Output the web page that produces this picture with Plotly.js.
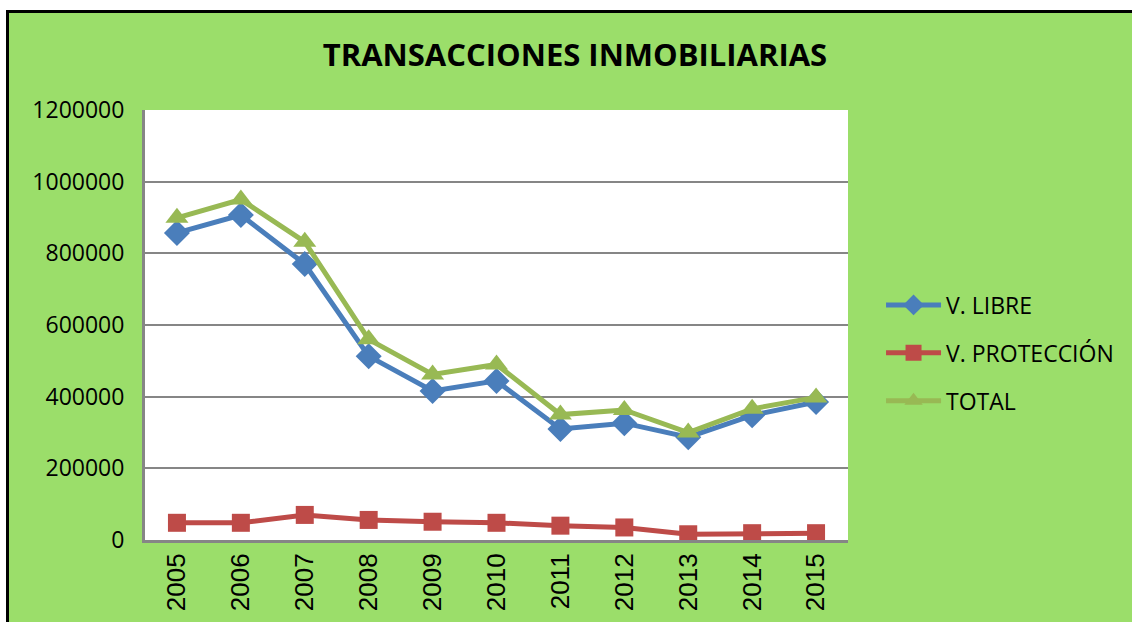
<!DOCTYPE html>
<html>
<head>
<meta charset="utf-8">
<script src="https://cdn.plot.ly/plotly-3.0.1.min.js"></script>
<style>
  html, body { margin: 0; padding: 0; background: #ffffff; width: 1132px; height: 622px; overflow: hidden; }
  #frame { position: absolute; left: 6px; top: 10px; width: 1126px; height: 612px;
           border-left: 3px solid #000; border-top: 3px solid #000; background: #9BDE6A; box-sizing: border-box; }
  #chart { position: absolute; left: 0; top: 0; width: 1123px; height: 609px; }
</style>
</head>
<body>
<div id="frame"><div id="chart"></div></div>
<script>
const years = ["2005","2006","2007","2008","2009","2010","2011","2012","2013","2014","2015"];
const libre = [857000, 907000, 770000, 513000, 416000, 444000, 310000, 326000, 287000, 348000, 385000];
const proteccion = [48000, 48000, 70000, 56000, 51000, 48000, 40000, 35000, 16000, 19000, 19000];
const total = [899000, 950000, 832000, 560000, 462000, 490000, 350000, 363000, 300000, 366000, 398000];
const seriesNames = ["V. LIBRE", "V. PROTECCIÓN", "TOTAL"];
const yTicks = [0, 200000, 400000, 600000, 800000, 1000000, 1200000];

const traces = [
  { x: years, y: libre, name: seriesNames[0], mode: "lines+markers", legendgroup: "a",
    line: { color: "#4A7EBB", width: 5 }, marker: { symbol: "diamond", size: 20, color: "#4A7EBB" } },
  { x: years, y: proteccion, name: seriesNames[1], mode: "lines+markers", legendgroup: "b",
    line: { color: "#BE4B48", width: 5 }, marker: { symbol: "square", size: 18, color: "#BE4B48" } },
  { x: years, y: total, name: seriesNames[2], mode: "lines+markers", legendgroup: "c",
    line: { color: "#98B954", width: 5 }, marker: { symbol: "triangle-up", size: 20, color: "#98B954" } }
];

const layout = {
  width: 1123, height: 609,
  paper_bgcolor: "#9BDE6A", plot_bgcolor: "#ffffff",
  margin: { l: 136, r: 284, t: 97, b: 82 },
  title: { text: "<b>TRANSACCIONES INMOBILIARIAS</b>", x: 0.504, xref: "container", xanchor: "center",
           y: 0.931, yref: "container", yanchor: "middle",
           font: { family: "Open Sans", size: 31, color: "#000" } },
  showlegend: true,
  legend: { x: 1.047, xanchor: "left", y: 0.435, yanchor: "middle", bgcolor: "rgba(0,0,0,0)",
            font: { family: "Open Sans", size: 23, color: "#000" }, tracegroupgap: 15, itemwidth: 55 },
  xaxis: { type: "category", range: [-0.5, 10.5], tickangle: -90, showgrid: false,
           showline: true, linecolor: "#868686", linewidth: 3, ticks: "",
           tickfont: { family: "Liberation Sans", size: 26, color: "#000" }, fixedrange: true },
  yaxis: { range: [0, 1200000], tickvals: yTicks, ticktext: yTicks.map(String),
           showgrid: true, gridcolor: "#868686", gridwidth: 2, zeroline: false,
           showline: true, linecolor: "#868686", linewidth: 3, ticks: "", ticklabelstandoff: 13,
           tickfont: { family: "Open Sans", size: 23, color: "#000" }, fixedrange: true }
};

Plotly.newPlot("chart", traces, layout, { displayModeBar: false, staticPlot: true });
</script>
</body>
</html>
